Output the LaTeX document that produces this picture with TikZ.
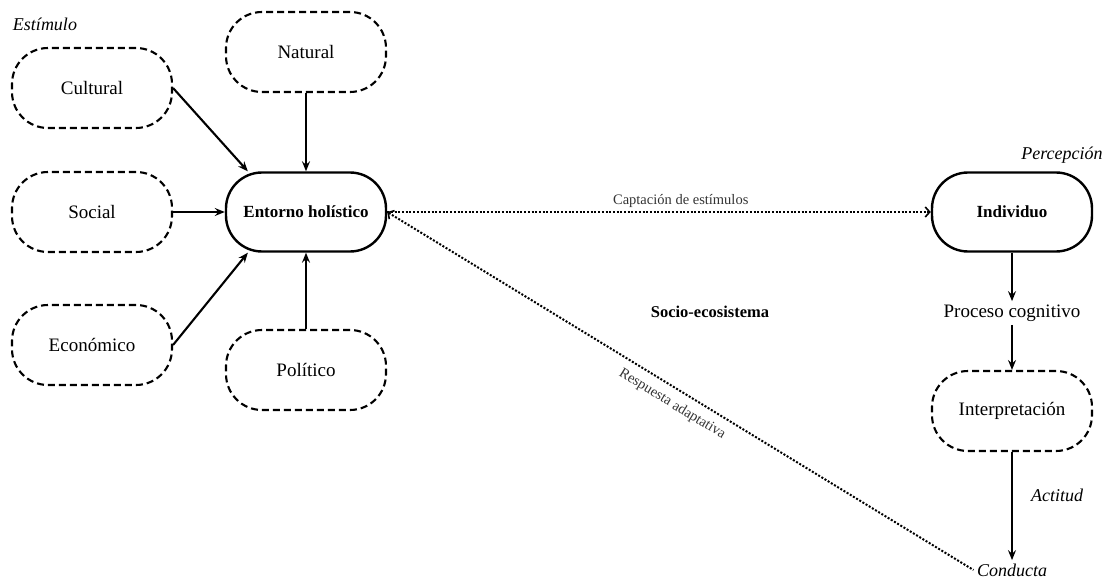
\documentclass[tikz,border=0pt]{standalone}
\usepackage{fontspec}
\setmainfont{Liberation Serif}
\usetikzlibrary{positioning,arrows.meta}

\tikzset{
  factor/.style={draw,dash pattern=on 7pt off 4pt,line width=2.1pt,rounded corners=36pt,
    minimum width=160pt,minimum height=80pt,font=\fontsize{19}{22}\selectfont},
  core/.style={draw,line width=2.4pt,rounded corners=36pt,
    minimum width=160pt,minimum height=79pt,font=\fontsize{17}{20}\selectfont\bfseries},
  tag/.style={font=\fontsize{18}{21}\selectfont\itshape},
  plain/.style={font=\fontsize{19}{22}\selectfont},
  linklabel/.style={font=\fontsize{14.5}{17}\selectfont,text=black!80},
  flow/.style={line width=2.1pt,-{Stealth[length=10pt,width=8pt,inset=3.5pt]}},
  link/.style={line width=2pt,dash pattern=on 2pt off 1.7pt},
}

\begin{document}
\begin{tikzpicture}[node distance=2cm,on grid,auto]
   \useasboundingbox (-306pt,212pt) rectangle (796pt,-374pt);
   % entorno y sus estimulos
   \node[core] (ent) {Entorno holístico};
   \node[factor] (nat) [above=160pt of ent] {Natural};
   \node[factor] (cul) [above left=124pt and 214pt of ent] {Cultural};
   \node[factor] (soc) [left=214pt of ent] {Social};
   \node[factor] (eco) [below left=133pt and 214pt of ent] {Económico};
   \node[factor] (pol) [below=158pt of ent] {Político};
   \node[tag] (est) [above left=64pt and 47pt of cul] {Estímulo};
   \node[font=\fontsize{16.5}{19}\selectfont\bfseries] (soe) [below right=100pt and 404pt of ent] {Socio-ecosistema};
   % individuo
   \node[core] (ind) [right=706pt of ent] {Individuo};
   \node[tag] (per) [above right=57pt and 50pt of ind] {Percepción};
   \node[plain] (proc) [below=101pt of ind] {Proceso cognitivo};
   \node[factor] (int) [below=98pt of proc] {Interpretación};
   \node[tag] (act) [below right=84pt and 45pt of int] {Actitud};
   \node[tag] (cond) [below=159pt of int] {Conducta};
    \path[flow]
    (cul.east) edge (ent.145)
    (nat) edge (ent)
    (soc) edge (ent)
    (eco.east) edge (ent.215)
    (pol) edge (ent)
    (ind) edge (proc)
    (proc) edge (int)
    (int) edge (cond);
    \draw[link,-{Straight Barb[length=4.5pt,width=10pt,line width=1.6pt]}]
      (ent) -- node[linklabel,pos=0.54] {Captación de estímulos} (ind);
    \draw[link,{Straight Barb[length=4.5pt,width=10pt,line width=1.6pt]}-]
      (ent.east) -- node[linklabel,sloped,swap,pos=0.5,inner sep=8pt] {Respuesta adaptativa} (cond.west);
\end{tikzpicture}
\end{document}
